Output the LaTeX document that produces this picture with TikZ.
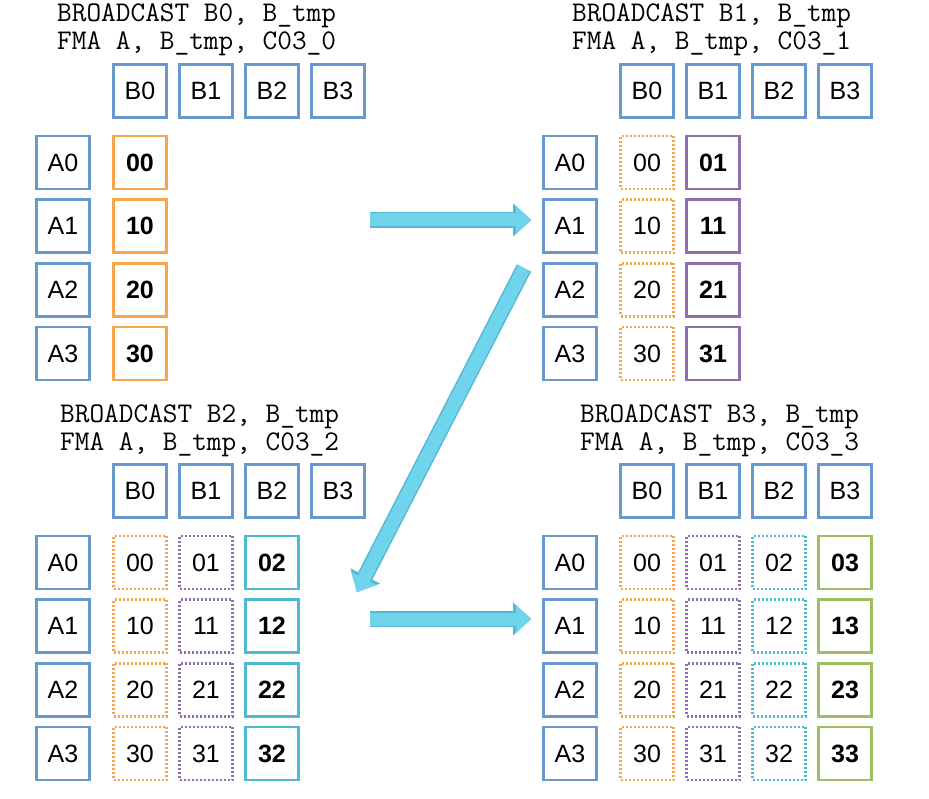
\documentclass[tikz,border=0pt]{standalone}
\usepackage{fontspec}
\setmainfont{Liberation Sans}
\usetikzlibrary{arrows.meta}

\definecolor{regblue}{RGB}{104,152,204}
\definecolor{accorange}{RGB}{248,164,76}
\definecolor{accpurple}{RGB}{142,112,176}
\definecolor{acccyan}{RGB}{76,186,208}
\definecolor{accgreen}{RGB}{158,190,96}
\definecolor{flowfill}{RGB}{112,212,236}
\definecolor{flowedge}{RGB}{84,184,214}

\tikzset{
  regbox/.style={draw=regblue, line width=2.5pt, minimum size=53pt, inner sep=0pt, font=\fontsize{25}{28}\selectfont},
  accbox/.style={regbox, draw=#1, font=\fontsize{25}{28}\selectfont\bfseries},
  oldbox/.style={regbox, draw=#1, dash pattern=on 2pt off 2pt},
  asmtext/.style={anchor=base west, inner sep=0pt, font=\ttfamily\fontsize{28.5}{30}\selectfont},
  flow/.style={draw=flowfill, line width=13pt, -{Triangle[length=15pt,width=28pt,line width=0.1pt]},
    preaction={draw=flowedge, line width=16pt, -{Triangle[length=18pt,width=33pt,line width=0.1pt]}}}
}

\begin{document}
\begin{tikzpicture}[x=1pt,y=-1pt]
  \useasboundingbox (0,0) rectangle (929,799);
  \foreach \p/\ox/\oy/\tx in {0/0/0/57, 1/507/0/572, 2/0/400/60, 3/507/400/580} {
    \node[asmtext] (bcast\p) at (\tx,\oy+22) {BROADCAST B\p, B\_tmp};
    \node[asmtext] (fma\p) at (\tx,\oy+50) {FMA A, B\_tmp, C03\_\p};
    \foreach \j in {0,...,3}
      \node[regbox] (B\p\j) at (\ox+140+66*\j,\oy+91) {B\j};
    \foreach \i in {0,...,3} {
      \node[regbox] (A\p\i) at (\ox+63,\oy+162.5+63.7*\i) {A\i};
      \foreach \j/\col in {0/accorange,1/accpurple,2/acccyan,3/accgreen} {
        \ifnum\j<\p
          \node[oldbox=\col] (C\p\i\j) at (\ox+140+66*\j,\oy+162.5+63.7*\i) {\i\j};
        \fi
        \ifnum\j=\p
          \node[accbox=\col] (C\p\i\j) at (\ox+140+66*\j,\oy+162.5+63.7*\i) {\i\j};
        \fi
      }
    }
  }
  \coordinate (f1s) at (370,220);
  \coordinate (f1e) at (531,220);
  \coordinate (f2s) at (524,268);
  \coordinate (f2e) at (357,592);
  \coordinate (f3s) at (370,619);
  \coordinate (f3e) at (531,619);
  \draw[flow] (f1s) -- (f1e);
  \draw[flow] (f2s) -- (f2e);
  \draw[flow] (f3s) -- (f3e);
\end{tikzpicture}
\end{document}
